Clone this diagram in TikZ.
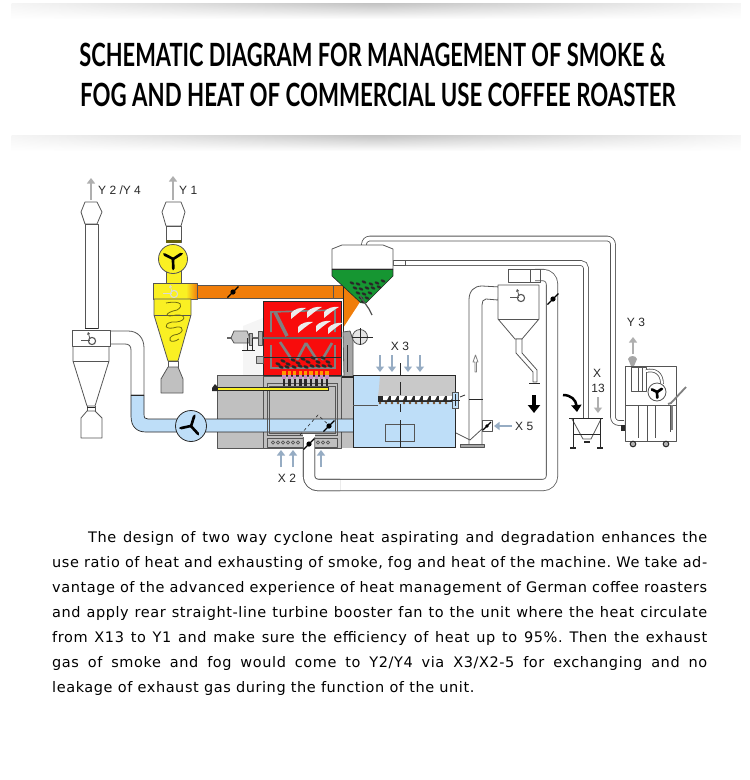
\documentclass[tikz,border=0pt]{standalone}
\usepackage{fontspec}
\usepackage{tikz}
\usetikzlibrary{arrows.meta,fadings}
\newfontfamily\titlefont{Lato}[FakeStretch=0.683]
\newfontfamily\bodyfont{DejaVu Sans}[LetterSpace=4]
\newfontfamily\partfont{Liberation Sans}
\definecolor{mOrange}{RGB}{240,125,10}
\definecolor{mYellow}{RGB}{250,240,35}
\definecolor{mRed}{RGB}{248,12,12}
\definecolor{mGreen}{RGB}{22,150,50}
\definecolor{mBlue}{RGB}{190,222,248}
\definecolor{mGrey}{RGB}{192,192,192}
\definecolor{mLine}{RGB}{85,85,85}
\definecolor{mDark}{RGB}{40,40,40}
\definecolor{mAir}{RGB}{150,172,195}
\definecolor{mExhaust}{RGB}{175,175,175}
\tikzfading[name=bandfade,left color=transparent!85,right color=transparent!85,middle color=transparent!0]
\tikzset{
  part/.style={draw=mLine,line width=0.8pt,line join=round},
  pipeline/.style={draw=mLine,line width=0.8pt,double=white,double distance=#1,rounded corners=6pt},
  airarrow/.style={-{Triangle[width=8pt,length=5.5pt]},mAir,line width=2.8pt},
  gasarrow/.style={-{Triangle[width=8pt,length=5.5pt]},mExhaust,line width=2.8pt},
  heavyarrow/.style={-{Triangle[width=12pt,length=8pt]},black,line width=3.5pt},
  label/.style={font=\partfont\fontsize{12}{12}\selectfont,text=mDark,inner sep=0pt},
  valve/.style={black,line width=1.2pt}
}
% fan wheel: centre x, centre y, radius, first blade angle
\newcommand{\fanwheel}[4]{
  \foreach \a in {0,120,240}
    \fill[black,rotate around={#4+\a:(#1,#2)}] (#1,#2-1.2) -- (#1+#3*0.72,#2-1.7) -- (#1+#3*0.88,#2) -- (#1+#3*0.72,#2+1) -- (#1,#2+1.4) -- cycle;
}
% butterfly valve: centre x, centre y
\newcommand{\flapvalve}[2]{
  \draw[valve] (#1-5.5,#2+5.5) -- (#1+5.5,#2-5.5);
  \fill[black] (#1,#2) circle (2.6);
}
% tangential inlet mark on a cyclone head
\newcommand{\swirlmark}[3][mLine]{
  \draw[#1,line width=0.8pt] (#2-8,#3) -- (#2+1,#3);
  \draw[#1,line width=1.1pt] (#2+3,#3+1) circle (3.6);
  \draw[#1,line width=0.8pt,->,>={Triangle[width=3pt,length=2.5pt]}] (#2+1,#3-1) -- (#2-1,#3-8);
}
\begin{document}
\frenchspacing
\begin{tikzpicture}[x=1pt,y=-1pt]
  \useasboundingbox (0,0) rectangle (750,780);
  \fill[white] (0,0) rectangle (750,780);
  % title bands
  \shade[top color=black!24,bottom color=white,path fading=bandfade] (12,3) rectangle (742,19);
  \shade[top color=black!24,bottom color=white,path fading=bandfade] (12,135) rectangle (742,151);
  \node[inner sep=0pt,anchor=center] (titletop) at (372.5,55) {\titlefont\bfseries\fontsize{32}{32}\selectfont SCHEMATIC DIAGRAM FOR MANAGEMENT OF SMOKE \&};
  \node[inner sep=0pt,anchor=center,xscale=1.018] (titlelow) at (378,95) {\titlefont\bfseries\fontsize{32}{32}\selectfont FOG AND HEAT OF COMMERCIAL USE COFFEE ROASTER};

  % exhaust cyclone, left
  \draw[gasarrow] (91,200) -- (91,178);
  \node[label,anchor=west] (ytwo) at (98,190) {Y 2 /Y 4};
  \draw[part,fill=white] (81,212) -- (85,202) -- (97,202) -- (102,212) -- (97,224) -- (85,224) -- cycle;
  \draw[part,fill=white] (85,224) rectangle (98,328);
  \draw[part,fill=white] (73,346) -- (109,346) -- (109,361) -- (95,406) -- (87,406) -- (73,361) -- cycle;
  \draw[part] (73,361) -- (109,361);
  \draw[part,fill=white] (81,438) -- (81,418) -- (87,411) -- (95,411) -- (102,418) -- (102,438) -- cycle;
  \draw[part] (87,406) -- (87,411) (95,406) -- (95,411);
  \draw[mDark,line width=1pt] (87,407) -- (95,407) (85,328) -- (98,328);
  % white duct, then blue duct through the furnace
  \fill[mBlue] (131,395) -- (131,416) .. controls (131,427) and (137,432) .. (146,432) -- (353,432) -- (353,419) -- (148,419) .. controls (145,419) and (144,418) .. (144,414) -- (144,395) -- cycle;
  \draw[part,fill=white] (110,331) -- (128,331) .. controls (138,331) and (144,338) .. (144,348) -- (144,395) -- (131,395) -- (131,350) .. controls (131,346) and (129,344) .. (125,344) -- (110,344);
  \draw[part,fill=white] (72,330) rectangle (110,346);
  \swirlmark{89}{340}
  \draw[mDark,line width=0.9pt] (131,395) -- (144,395);

  % machine body
  \fill[black!4] (243,326) -- (263,318) -- (263,375) -- (243,375) -- cycle;
  \fill[mGrey] (217,375) rectangle (353,448);
  \draw[part] (217,375) rectangle (263,448);
  \draw[part] (263,376) rectangle (341,448);
  \draw[part] (341,376) -- (341,448) (353,376) -- (353,448);
  \fill[mBlue] (217,419) rectangle (353,432);
  \draw[mDark,line width=0.7pt] (131,395) -- (131,416) .. controls (131,427) and (137,432) .. (146,432) -- (353,432);
  \draw[mDark,line width=0.7pt] (144,395) -- (144,414) .. controls (144,418) and (145,419) .. (148,419) -- (353,419);
  \draw[mLine,line width=0.8pt] (267,383) rectangle (337,435);
  \draw[mLine,line width=0.8pt] (269,386) rectangle (335,433);
  \draw[part,fill=mGrey] (267,438) rectangle (337,447);
  \foreach \bx in {273,278,283,288,293,298,318,323,328}
    \draw[mLine,line width=0.7pt] (\bx,442.5) circle (1.7);
  \draw[mDark,dashed,line width=0.6pt] (300,435) -- (318,415) -- (331,427);
  \flapvalve{329}{426}
  % blue fan
  \draw[mDark,line width=0.8pt,fill=mBlue] (191,426) circle (15.5);
  \fanwheel{191}{426}{14}{190}

  % yellow cyclone Y1
  \draw[gasarrow] (173,200) -- (173,176);
  \node[label,anchor=west] (yone) at (179,190) {Y 1};
  \draw[part,fill=white] (162,212) -- (166,202) -- (181,202) -- (185,212) -- (181,226) -- (166,226) -- cycle;
  \draw[part,fill=white] (166,226) rectangle (181,242);
  \fill[black!60!mYellow] (166,240) rectangle (181,243);
  \draw[part,fill=mYellow] (166,270) rectangle (181,283);
  \draw[part,fill=mYellow] (173,259) circle (14.5);
  \fanwheel{173}{259}{13}{270}
  \fill[mOrange] (197,285) rectangle (343,298.5);
  \draw[part] (197,285) -- (343,285) (197,298.5) -- (343,298.5);
  \shade[left color=mYellow,right color=mOrange] (186,284) rectangle (197,298);
  \fill[mYellow] (153,283) rectangle (187,299);
  \draw[part] (153,283) rectangle (197,299);
  \swirlmark[white!70!gray]{171}{293}
  \draw[part,fill=mYellow] (154,299) -- (191,299) -- (191,315) -- (178,361) -- (168,361) -- (154,315) -- cycle;
  \draw[part] (154,315) -- (191,315);
  \draw[black!55!mYellow,line width=0.8pt] (166,303) .. controls (182,300) and (184,306) .. (177,310) .. controls (163,313) and (165,318) .. (176,315) .. controls (188,314) and (186,323) .. (172,322) .. controls (162,324) and (165,331) .. (177,327) .. controls (185,326) and (184,334) .. (174,335) .. controls (166,338) and (170,345) .. (179,339);
  \draw[part,fill=white] (168,361) rectangle (178,367);
  \draw[part,fill=mGrey] (161,393) -- (161,379) -- (168,367) -- (178,367) -- (183,379) -- (183,393) -- cycle;
  \flapvalve{233}{292}

  % pipes to the far units
  \draw[pipeline=4pt] (364,247) -- (364,238.5) -- (613,238.5) -- (613,423) -- (624,423);
  \draw[pipeline=4pt,rounded corners=5pt] (393,263) -- (586,263) -- (586,418);
  \draw[part,fill=white] (393,260) rectangle (405,265);
  \draw[pipeline=10.5pt,rounded corners=9pt] (309,450) -- (309,485) -- (552,485) -- (552,275) -- (535,275);

  % roasting drum
  \fill[mRed] (263,301) rectangle (341,375);
  \draw[mDark,line width=0.9pt] (263,301) rectangle (341,375);
  \draw[gray,line width=1.6pt] (271,332) -- (271,312) -- (335,310) -- (335,332);
  \draw[gray,line width=3.5pt] (275,312) -- (287,336);
  \foreach \px/\py in {291/313,307/312,324/312,298/327,316/326,328/328}
    \fill[white!85!gray] (\px,\py) .. controls (\px+3,\py-4) and (\px+10,\py-6) .. (\px+15,\py-5) .. controls (\px+9,\py-2) and (\px+4,\py+3) .. (\px,\py+6) -- cycle;
  \draw[gray,line width=2.6pt] (280,342) -- (292,360) (306,343) -- (297,360) (306,343) -- (317,360) (332,343) -- (322,360);
  \draw[gray,line width=1.6pt] (271,345) -- (271,368) -- (335,368) -- (335,345);
  \foreach \bx/\by in {278/364,283/361,288/364,293/360,298/363,303/359,308/362,313/358,318/362,323/358,328/362,281/367,287/367,294/367,300/366,306/367,312/366,318/366,324/366,330/366}
    \fill[mDark,rotate around={-25:(\bx,\by)}] (\bx,\by) ellipse (2.8 and 1.4);
  \draw[mDark,line width=0.8pt] (263,357) -- (341,357);
  \draw[gray!80!black,line width=2pt] (227,338) -- (342,338);
  % drive on the left of the drum
  \draw[part,fill=gray!45] (234,331) -- (247,331) -- (249,336) -- (249,343) -- (234,343) -- (231,338) -- cycle;
  \draw[part,fill=gray!60] (249,333) rectangle (252,345);
  \draw[part,fill=gray!60] (258,331) rectangle (262,345);
  \draw[mDark,line width=1pt] (247,338) -- (247,350) (252,338) -- (252,350) (242,350) -- (255,350);
  \draw[part,fill=gray!50] (256,356) rectangle (263,363);

  % burners and gas rod
  \foreach \bx in {284,289.4,294.8,300.2,305.6,311,316.4,321.8,327}{
    \fill[orange!80!yellow] (\bx-1.6,371) rectangle (\bx+1.6,375);
    \fill[violet!45!white] (\bx-1.6,375) rectangle (\bx+1.6,379);
    \fill[mDark] (\bx-1.3,379) rectangle (\bx+1.3,386);
  }
  \draw[mDark,line width=0.5pt,fill=mYellow] (217,387) rectangle (328,390);
  \fill[mDark] (212,388) -- (215,384) -- (217,386) -- (217,391) -- (212,391) -- cycle;

  % hopper
  \fill[mOrange] (343,285) -- (362,299) -- (343,328) -- cycle;
  \draw[part,fill=mOrange] (333,285) rectangle (343,298.5);
  \draw[mDark,line width=0.8pt] (343,285) -- (343,332);
  \draw[part,fill=white] (332,249) -- (342,245) -- (383,245) -- (393,249) -- (393,269) -- (332,269) -- cycle;
  \fill[mGreen] (332,269) rectangle (393,276);
  \fill[mGreen] (332,276) -- (393,276) -- (366,303) -- (361,303) -- cycle;
  \draw[mDark,line width=0.8pt] (332,269) -- (393,269);
  \draw[mDark,line width=0.6pt] (332,269) -- (332,276) -- (361,303) (393,269) -- (393,276) -- (366,303);
  \foreach \bx/\by in {352/283,358/284,364/282,371/284,377/283,383/281,355/288,361/289,367/288,373/288,379/287,358/293,364/294,370/293,361/298,367/298,363/302}
    \fill[mDark,rotate around={-25:(\bx,\by)}] (\bx,\by) ellipse (2.5 and 1.3);
  \draw[mLine,line width=1.2pt] (360,296) -- (369,309) -- (372,315);

  % dark chute and cooler inlet at the right of the drum
  \draw[part,fill=gray!70] (343,332) -- (350,331) -- (353,340) -- (353,377) -- (344,377) -- cycle;
  \draw[mDark,line width=0.9pt] (347,345) -- (347,372);
  \draw[mDark,line width=1.5pt] (342,377) -- (355,377);
  \draw[part,fill=gray!20] (360,337) circle (7.5);
  \draw[mDark,line width=0.6pt] (360,328) -- (360,345) (352,337) -- (373,337);

  % cooling tray
  \draw[airarrow] (380,355) -- (380,372);
  \draw[airarrow] (392,355) -- (392,372);
  \draw[airarrow] (408,355) -- (408,372);
  \draw[airarrow] (420,355) -- (420,372);
  \node[label,anchor=center] (xthree) at (400,346) {X 3};
  \fill[mBlue] (353,375) rectangle (455,447);
  \fill[mGrey!85] (380,375) -- (455,375) -- (455,396) -- (378,396) -- (379,388) -- cycle;
  \draw[mDark,line width=0.9pt] (353,375) rectangle (455,447);
  \draw[mLine,line width=0.5pt] (353,405) -- (378,405);
  \fill[mDark] (378,396) rectangle (455,402);
  \foreach \tx in {383,391,399,407,415,423,431,439,447}
    \fill[white] (\tx,396) -- (\tx+6,396) -- (\tx+4,400) -- (\tx,400) -- cycle;
  \foreach \tx in {380,386,392,398,404,410,416,422,428,434,440,446}
    \fill[brown!60!black] (\tx,403) circle (1.4);
  \draw[mLine,line width=0.7pt] (385,424) rectangle (414,441);
  \draw[mDark,line width=0.6pt] (400,363) -- (400,376) (400,382) -- (400,395) (400,404) -- (400,412) (400,420) -- (400,447);
  \draw[mLine,line width=0.5pt,fill=mBlue] (452,392) rectangle (458,408);
  \draw[mDark,line width=0.9pt] (450,400) -- (460,400) (455,394) -- (455,406);
  \draw[mDark,line width=0.8pt] (460,397) -- (465,395);

  % white cut-out around the lower flap
  \fill[white] (303,434) -- (315,434) -- (315,450) -- (303,450) -- cycle;
  \draw[pipeline=10.5pt,rounded corners=9pt] (309,437) -- (309,485) -- (340,485);
  \flapvalve{309}{444}
  \draw[airarrow] (281,467) -- (281,450);
  \draw[airarrow] (293,467) -- (293,450);
  \draw[airarrow] (321,467) -- (321,450);
  \node[label,anchor=center] (xtwo) at (287,478) {X 2};

  % duct up to the separator
  \draw[part,fill=white] (469,433) -- (469,300) .. controls (469,291) and (474,286) .. (482,286) -- (500,287) -- (498,300) -- (486,299) .. controls (483,299) and (482,302) .. (482,305) -- (482,446) -- (469,446) -- cycle;
  \draw[mDark,line width=0.8pt] (469,399) -- (483,399);
  \draw[part,fill=white,draw=gray] (475,372) -- (475,362) -- (473,362) -- (475.5,355) -- (478,362) -- (476.5,362) -- (476.5,372) -- cycle;
  \draw[part] (456,433) -- (470,440) -- (482,429);
  \draw[part,fill=gray!70] (460,444) rectangle (484,447);
  \draw[part,fill=white] (482,420) rectangle (492,431);
  \draw[valve] (483,430) -- (491,422);
  \fill[black] (487,426) circle (1.8);
  \draw[airarrow] (512,426) -- (494,426);
  \node[label,anchor=west] (xfive) at (515,426) {X 5};

  % separator
  \draw[part,fill=white] (508,269) rectangle (530,282);
  \draw[part] (530,269) rectangle (540,282);
  \draw[part,fill=white] (498,285) -- (539,285) -- (539,319) -- (522,339) -- (515,339) -- (498,319) -- cycle;
  \draw[part] (498,319) -- (539,319);
  \swirlmark{518}{297}
  \draw[part,fill=white] (516,339) -- (516,353) -- (533,372) -- (533,382) -- (537,382) -- (537,370) -- (522,353) -- (522,339) -- cycle;
  \draw[mDark,line width=1pt] (529,383) -- (540,383);
  \flapvalve{553}{299}
  \draw[heavyarrow] (534,395) -- (534,413);

  % product bin
  \draw[heavyarrow,line width=2.5pt,-{Triangle[width=10pt,length=7pt]}] (563,395) .. controls (571,395) and (576,400) .. (577,412);
  \draw[gasarrow] (598,397) -- (598,413);
  \node[label,anchor=center] (xthirteen) at (597,373) {X};
  \node[label,anchor=center] (numthirteen) at (598,388) {13};
  \draw[mDark,line width=1pt] (569,418) -- (603,418);
  \draw[part] (572,419) -- (583,439) -- (591,439) -- (601,419);
  \draw[mDark,line width=0.8pt] (573,418) -- (573,448) (600,418) -- (600,448) (573,434) -- (600,434);
  \draw[mDark,line width=1.2pt] (570,448) -- (576,448) (597,448) -- (603,448) (584,442) -- (590,442);

  % exhaust unit Y3
  \node[label,anchor=center] (ythree) at (636,322) {Y 3};
  \draw[gasarrow] (633,354) -- (633,337);
  \fill[gray!70] (628,359) .. controls (629,355) and (636,355) .. (637,359) -- (634,366) -- (631,366) -- cycle;
  \draw[part,fill=white] (625,366) rectangle (676,441);
  \draw[part] (625,405) -- (676,405);
  \draw[part] (631,367) rectangle (646,391);
  \draw[part] (638,367) -- (638,391) (642,367) -- (642,391);
  \draw[part,double=white,double distance=2pt] (646,371) .. controls (655,369) and (662,373) .. (662,384);
  \draw[part,fill=white] (657,392) circle (9);
  \fanwheel{657}{392}{8}{270}
  \draw[part] (638,405) -- (638,438) (647,405) -- (647,441) (655,405) -- (655,438) (670,405) -- (670,432);
  \draw[gray,line width=1.8pt] (668,404) -- (671,403) -- (686,387);
  \draw[gray,line width=1.4pt] (672,405) -- (672,430);
  \draw[mDark,line width=1pt,fill=gray!60] (633,444) circle (2.8);
  \draw[mDark,line width=1pt,fill=gray!60] (666,444) circle (2.8);
  \fill[mDark] (621,425) rectangle (625,431);

  % description
  \node[inner sep=0pt,anchor=north west,align=left,font=\bodyfont\fontsize{14.5}{25}\selectfont] (textblock) at (52,531) {%
    \hspace*{36pt}\makebox[619pt][s]{The design of two way cyclone heat aspirating and degradation enhances the}\\
    \makebox[655pt][s]{use ratio of heat and exhausting of smoke, fog and heat of the machine. We take ad-}\\
    \makebox[655pt][s]{vantage of the advanced experience of heat management of German coffee roasters}\\
    \makebox[655pt][s]{and apply rear straight-line turbine booster fan to the unit where the heat circulate}\\
    \makebox[655pt][s]{from X13 to Y1 and make sure the efficiency of heat up to 95\%. Then the exhaust}\\
    \makebox[655pt][s]{gas of smoke and fog would come to Y2/Y4 via X3/X2-5 for exchanging and no}\\
    leakage of exhaust gas during the function of the unit.};
\end{tikzpicture}
\end{document}
